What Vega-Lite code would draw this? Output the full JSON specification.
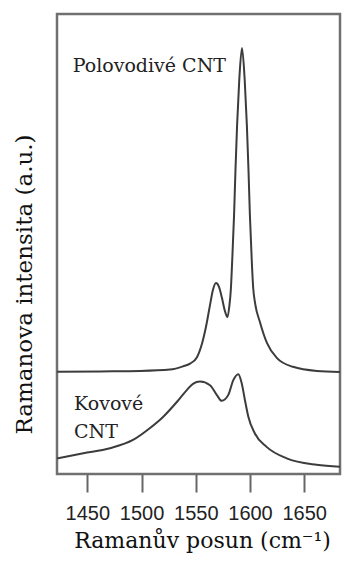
{
  "$schema": "https://vega.github.io/schema/vega-lite/v6.json",
  "width": 283,
  "height": 460,
  "autosize": {"type": "none"},
  "padding": {"left": 57, "top": 14, "right": 3, "bottom": 89},
  "background": "white",
  "config": {
    "view": {"stroke": "#707070", "strokeWidth": 2.5}
  },
  "datasets": {
    "spectra": [
      {"series": "Polovodivé CNT", "shift": 1422.1, "intensity": 22.2},
      {"series": "Polovodivé CNT", "shift": 1461.7, "intensity": 22.3},
      {"series": "Polovodivé CNT", "shift": 1498.6, "intensity": 22.4},
      {"series": "Polovodivé CNT", "shift": 1526.2, "intensity": 22.7},
      {"series": "Polovodivé CNT", "shift": 1538.2, "intensity": 23.4},
      {"series": "Polovodivé CNT", "shift": 1544.7, "intensity": 24.0},
      {"series": "Polovodivé CNT", "shift": 1551.1, "intensity": 25.4},
      {"series": "Polovodivé CNT", "shift": 1555.7, "intensity": 28.3},
      {"series": "Polovodivé CNT", "shift": 1559.4, "intensity": 32.0},
      {"series": "Polovodivé CNT", "shift": 1563.1, "intensity": 36.7},
      {"series": "Polovodivé CNT", "shift": 1565.8, "intensity": 40.0},
      {"series": "Polovodivé CNT", "shift": 1568.6, "intensity": 41.5},
      {"series": "Polovodivé CNT", "shift": 1571.4, "intensity": 40.7},
      {"series": "Polovodivé CNT", "shift": 1574.1, "intensity": 38.3},
      {"series": "Polovodivé CNT", "shift": 1576.9, "intensity": 35.4},
      {"series": "Polovodivé CNT", "shift": 1579.2, "intensity": 34.1},
      {"series": "Polovodivé CNT", "shift": 1581.0, "intensity": 36.6},
      {"series": "Polovodivé CNT", "shift": 1582.3, "intensity": 40.0},
      {"series": "Polovodivé CNT", "shift": 1583.6, "intensity": 46.5},
      {"series": "Polovodivé CNT", "shift": 1585.3, "intensity": 56.3},
      {"series": "Polovodivé CNT", "shift": 1586.6, "intensity": 66.1},
      {"series": "Polovodivé CNT", "shift": 1588.1, "intensity": 75.9},
      {"series": "Polovodivé CNT", "shift": 1590.1, "intensity": 85.7},
      {"series": "Polovodivé CNT", "shift": 1592.6, "intensity": 92.6},
      {"series": "Polovodivé CNT", "shift": 1595.1, "intensity": 85.7},
      {"series": "Polovodivé CNT", "shift": 1597.1, "intensity": 75.9},
      {"series": "Polovodivé CNT", "shift": 1598.6, "intensity": 66.1},
      {"series": "Polovodivé CNT", "shift": 1599.9, "intensity": 56.3},
      {"series": "Polovodivé CNT", "shift": 1601.6, "intensity": 46.5},
      {"series": "Polovodivé CNT", "shift": 1602.9, "intensity": 40.6},
      {"series": "Polovodivé CNT", "shift": 1604.8, "intensity": 37.0},
      {"series": "Polovodivé CNT", "shift": 1609.2, "intensity": 33.0},
      {"series": "Polovodivé CNT", "shift": 1615.6, "intensity": 28.5},
      {"series": "Polovodivé CNT", "shift": 1624.9, "intensity": 25.2},
      {"series": "Polovodivé CNT", "shift": 1639.6, "intensity": 23.3},
      {"series": "Polovodivé CNT", "shift": 1661.7, "intensity": 22.4},
      {"series": "Polovodivé CNT", "shift": 1682.9, "intensity": 22.2},
      {"series": "Kovové CNT", "shift": 1422.1, "intensity": 3.4},
      {"series": "Kovové CNT", "shift": 1446.3, "intensity": 4.5},
      {"series": "Kovové CNT", "shift": 1470.9, "intensity": 5.6},
      {"series": "Kovové CNT", "shift": 1492.1, "intensity": 7.4},
      {"series": "Kovové CNT", "shift": 1507.8, "intensity": 10.0},
      {"series": "Kovové CNT", "shift": 1519.8, "intensity": 12.4},
      {"series": "Kovové CNT", "shift": 1532.7, "intensity": 15.7},
      {"series": "Kovové CNT", "shift": 1541.9, "intensity": 18.3},
      {"series": "Kovové CNT", "shift": 1547.4, "intensity": 19.6},
      {"series": "Kovové CNT", "shift": 1553.9, "intensity": 20.1},
      {"series": "Kovové CNT", "shift": 1563.1, "intensity": 19.3},
      {"series": "Kovové CNT", "shift": 1569.3, "intensity": 17.2},
      {"series": "Kovové CNT", "shift": 1573.9, "intensity": 15.9},
      {"series": "Kovové CNT", "shift": 1580.0, "intensity": 17.2},
      {"series": "Kovové CNT", "shift": 1584.6, "intensity": 20.4},
      {"series": "Kovové CNT", "shift": 1589.2, "intensity": 21.7},
      {"series": "Kovové CNT", "shift": 1592.3, "intensity": 19.8},
      {"series": "Kovové CNT", "shift": 1595.3, "intensity": 16.1},
      {"series": "Kovové CNT", "shift": 1598.4, "intensity": 12.5},
      {"series": "Kovové CNT", "shift": 1604.5, "intensity": 8.8},
      {"series": "Kovové CNT", "shift": 1615.3, "intensity": 5.9},
      {"series": "Kovové CNT", "shift": 1633.8, "intensity": 3.4},
      {"series": "Kovové CNT", "shift": 1661.4, "intensity": 2.0},
      {"series": "Kovové CNT", "shift": 1682.9, "intensity": 1.6}
    ],
    "labels": [
      {"text": "Polovodivé CNT", "shift": 1436.5, "intensity": 87.5},
      {"text": "Kovové", "shift": 1437.7, "intensity": 13.9},
      {"text": "CNT", "shift": 1437.7, "intensity": 7.8}
    ]
  },
  "encoding": {
    "x": {
      "field": "shift",
      "type": "quantitative",
      "scale": {"domain": [1422, 1683], "nice": false, "zero": false},
      "axis": {
        "title": "Ramanův posun (cm⁻¹)",
        "titleFont": "DejaVu Serif",
        "titleFontSize": 22,
        "titleFontWeight": "normal",
        "titleColor": "#111111",
        "titleX": 145,
        "titleY": 73,
        "titleAlign": "center",
        "titleBaseline": "alphabetic",
        "values": [1450, 1500, 1550, 1600, 1650],
        "format": "d",
        "grid": false,
        "domain": false,
        "ticks": true,
        "tickColor": "#666666",
        "tickWidth": 2,
        "tickSize": 18,
        "labelFont": "Liberation Sans",
        "labelFontSize": 20,
        "labelColor": "#222222",
        "labelPadding": 11,
        "labelFlush": false,
        "labelOverlap": false
      }
    },
    "y": {
      "field": "intensity",
      "type": "quantitative",
      "scale": {"domain": [0, 100], "nice": false, "zero": false},
      "axis": {
        "title": "Ramanova intensita (a.u.)",
        "titleFont": "DejaVu Serif",
        "titleFontSize": 23,
        "titleFontWeight": "normal",
        "titleColor": "#111111",
        "titleAngle": -90,
        "titleX": -26,
        "titleY": 270,
        "titleAlign": "center",
        "titleBaseline": "alphabetic",
        "grid": false,
        "domain": false,
        "ticks": false,
        "labels": false
      }
    }
  },
  "layer": [
    {
      "data": {"name": "spectra"},
      "mark": {"type": "line", "interpolate": "monotone", "color": "#3c3c3c", "strokeWidth": 2, "clip": true},
      "encoding": {"detail": {"field": "series"}}
    },
    {
      "data": {"name": "labels"},
      "mark": {"type": "text", "align": "left", "baseline": "alphabetic", "font": "DejaVu Serif", "fontSize": 19, "color": "#222222"},
      "encoding": {"text": {"field": "text"}}
    }
  ]
}
